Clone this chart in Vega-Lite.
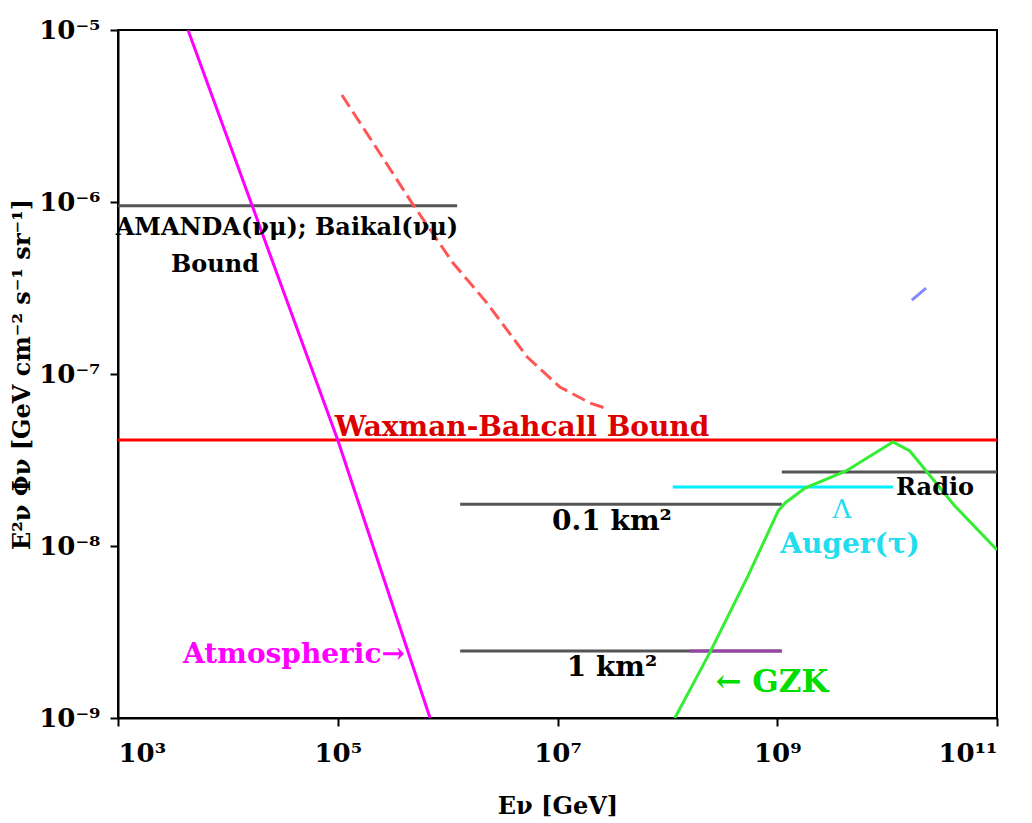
{
  "$schema": "https://vega.github.io/schema/vega-lite/v6.json",
  "autosize": {"type": "none"},
  "width": 879,
  "height": 688,
  "padding": {"left": 118, "top": 30, "right": 35, "bottom": 105},
  "background": "white",
  "config": {
    "view": {"stroke": "black", "strokeWidth": 2},
    "axis": {
      "labelFont": "DejaVu Serif", "labelFontWeight": "bold", "labelFontSize": 26, "labelColor": "black",
      "titleFont": "DejaVu Serif", "titleFontWeight": "bold", "titleFontSize": 24, "titleColor": "black",
      "tickColor": "black", "domainColor": "black", "grid": false, "tickSize": 8, "tickWidth": 2, "domainWidth": 2
    },
    "text": {"font": "DejaVu Serif", "fontWeight": "bold", "fontSize": 24}
  },
  "datasets": {
    "segs": [
      {"series": "AMANDA", "E": 1000, "F": 9.5e-7},
      {"series": "AMANDA", "E": 1.22e6, "F": 9.5e-7},
      {"series": "WB", "E": 1000, "F": 4.13e-8},
      {"series": "WB", "E": 1e11, "F": 4.13e-8},
      {"series": "km01", "E": 1.30e6, "F": 1.75e-8},
      {"series": "km01", "E": 1.10e9, "F": 1.75e-8},
      {"series": "km1", "E": 1.30e6, "F": 2.45e-9},
      {"series": "km1", "E": 1.10e9, "F": 2.45e-9},
      {"series": "km1p", "E": 1.61e8, "F": 2.45e-9},
      {"series": "km1p", "E": 1.10e9, "F": 2.45e-9},
      {"series": "Auger", "E": 1.12e8, "F": 2.20e-8},
      {"series": "Auger", "E": 1.13e10, "F": 2.20e-8},
      {"series": "Radio", "E": 1.10e9, "F": 2.69e-8},
      {"series": "Radio", "E": 1e11, "F": 2.69e-8},
      {"series": "Atm", "E": 4335, "F": 1e-5},
      {"series": "Atm", "E": 1.0e5, "F": 4.13e-8},
      {"series": "Atm", "E": 6.92e5, "F": 1e-9},
      {"series": "GZK", "E": 1.17e8, "F": 1e-9},
      {"series": "GZK", "E": 2.50e8, "F": 2.48e-9},
      {"series": "GZK", "E": 5.42e8, "F": 6.70e-9},
      {"series": "GZK", "E": 1.02e9, "F": 1.60e-8},
      {"series": "GZK", "E": 1.18e9, "F": 1.78e-8},
      {"series": "GZK", "E": 1.79e9, "F": 2.17e-8},
      {"series": "GZK", "E": 4.23e9, "F": 2.73e-8},
      {"series": "GZK", "E": 1.13e10, "F": 4.03e-8},
      {"series": "GZK", "E": 1.61e10, "F": 3.57e-8},
      {"series": "GZK", "E": 4.06e10, "F": 1.73e-8},
      {"series": "GZK", "E": 1e11, "F": 9.48e-9},
      {"series": "Blue", "E": 1.68e10, "F": 2.69e-7},
      {"series": "Blue", "E": 2.26e10, "F": 3.16e-7}
    ],
    "dashed": [
      {"E": 1.09e5, "F": 4.19e-6},
      {"E": 2.32e5, "F": 2.00e-6},
      {"E": 4.74e5, "F": 9.86e-7},
      {"E": 1.12e6, "F": 4.42e-7},
      {"E": 2.28e6, "F": 2.59e-7},
      {"E": 5.27e6, "F": 1.26e-7},
      {"E": 1.05e7, "F": 8.40e-8},
      {"E": 1.98e7, "F": 6.78e-8},
      {"E": 2.71e7, "F": 6.34e-8}
    ],
    "labelsSmall": [
      {"key": "black", "E": 3.45e4, "F": 7.06e-7, "text": "AMANDA(νμ); Baikal(νμ)"},
      {"key": "black", "E": 7.64e3, "F": 4.31e-7, "text": "Bound"},
      {"key": "black", "E": 2.73e10, "F": 2.17e-8, "text": "Radio"}
    ],
    "labelsLarge": [
      {"key": "red", "E": 4.75e6, "F": 4.85e-8, "text": "Waxman-Bahcall Bound"},
      {"key": "black", "E": 3.13e7, "F": 1.38e-8, "text": "0.1 km²"},
      {"key": "black", "E": 3.13e7, "F": 1.95e-9, "text": "1 km²"},
      {"key": "cyan", "E": 4.6e9, "F": 1.01e-8, "text": "Auger(τ)"},
      {"key": "magenta", "E": 4.0e4, "F": 2.32e-9, "text": "Atmospheric→"}
    ],
    "labelsGZK": [
      {"key": "green", "E": 8.96e8, "F": 1.60e-9, "text": "← GZK"}
    ],
    "arrow": [
      {"E": 3.88e9, "F": 1.62e-8, "text": "Λ"}
    ]
  },
  "layer": [
    {
      "data": {"name": "segs"},
      "mark": {"type": "line", "strokeWidth": 3, "clip": true},
      "encoding": {
        "x": {
          "field": "E", "type": "quantitative",
          "scale": {"type": "log", "domain": [1000, 1e11], "nice": false},
          "axis": {
            "values": [1000, 100000, 10000000, 1000000000, 100000000000],
            "title": "Eν [GeV]", "titlePadding": 28, "labelPadding": 14,
            "labelExpr": "datum.value < 1e4 ? '10³' : datum.value < 1e6 ? '10⁵' : datum.value < 1e8 ? '10⁷' : datum.value < 1e10 ? '10⁹' : '10¹¹'"
          }
        },
        "y": {
          "field": "F", "type": "quantitative",
          "scale": {"type": "log", "domain": [1e-9, 1e-5], "nice": false},
          "axis": {
            "values": [1e-9, 1e-8, 1e-7, 1e-6, 1e-5],
            "title": "E²ν Φν  [GeV cm⁻² s⁻¹ sr⁻¹]", "titlePadding": 4, "labelPadding": 10,
            "labelExpr": "datum.value < 5e-9 ? '10⁻⁹' : datum.value < 5e-8 ? '10⁻⁸' : datum.value < 5e-7 ? '10⁻⁷' : datum.value < 5e-6 ? '10⁻⁶' : '10⁻⁵'"
          }
        },
        "detail": {"field": "series"},
        "color": {
          "field": "series", "type": "nominal", "legend": null,
          "scale": {
            "domain": ["AMANDA", "WB", "km01", "km1", "km1p", "Auger", "Radio", "Atm", "GZK", "Blue"],
            "range": ["#555555", "#ff0000", "#555555", "#555555", "#9944aa", "#00eeff", "#555555", "#ff00ff", "#33ee33", "#8888ff"]
          }
        }
      }
    },
    {
      "data": {"name": "dashed"},
      "mark": {"type": "line", "strokeWidth": 3, "color": "#ff5555", "strokeDash": [14, 6], "clip": true},
      "encoding": {
        "x": {"field": "E", "type": "quantitative"},
        "y": {"field": "F", "type": "quantitative"}
      }
    },
    {
      "data": {"name": "labelsSmall"},
      "mark": {"type": "text", "align": "center", "baseline": "middle", "fontSize": 24},
      "encoding": {
        "x": {"field": "E", "type": "quantitative"},
        "y": {"field": "F", "type": "quantitative"},
        "text": {"field": "text"},
        "color": {
          "field": "key", "type": "nominal", "legend": null,
          "scale": {"domain": ["black", "red", "cyan", "magenta", "green"], "range": ["#000000", "#dd0000", "#22ddee", "#ff00ff", "#00dd00"]}
        }
      }
    },
    {
      "data": {"name": "labelsLarge"},
      "mark": {"type": "text", "align": "center", "baseline": "middle", "fontSize": 28},
      "encoding": {
        "x": {"field": "E", "type": "quantitative"},
        "y": {"field": "F", "type": "quantitative"},
        "text": {"field": "text"},
        "color": {
          "field": "key", "type": "nominal", "legend": null,
          "scale": {"domain": ["black", "red", "cyan", "magenta", "green"], "range": ["#000000", "#dd0000", "#22ddee", "#ff00ff", "#00dd00"]}
        }
      }
    },
    {
      "data": {"name": "labelsGZK"},
      "mark": {"type": "text", "align": "center", "baseline": "middle", "fontSize": 31, "color": "#00dd00"},
      "encoding": {
        "x": {"field": "E", "type": "quantitative"},
        "y": {"field": "F", "type": "quantitative"},
        "text": {"field": "text"}
      }
    },
    {
      "data": {"name": "arrow"},
      "mark": {"type": "text", "align": "center", "baseline": "middle", "color": "#22ddee", "fontWeight": "normal", "fontSize": 26},
      "encoding": {
        "x": {"field": "E", "type": "quantitative"},
        "y": {"field": "F", "type": "quantitative"},
        "text": {"field": "text"}
      }
    }
  ],
  "resolve": {"scale": {"color": "independent"}}
}
